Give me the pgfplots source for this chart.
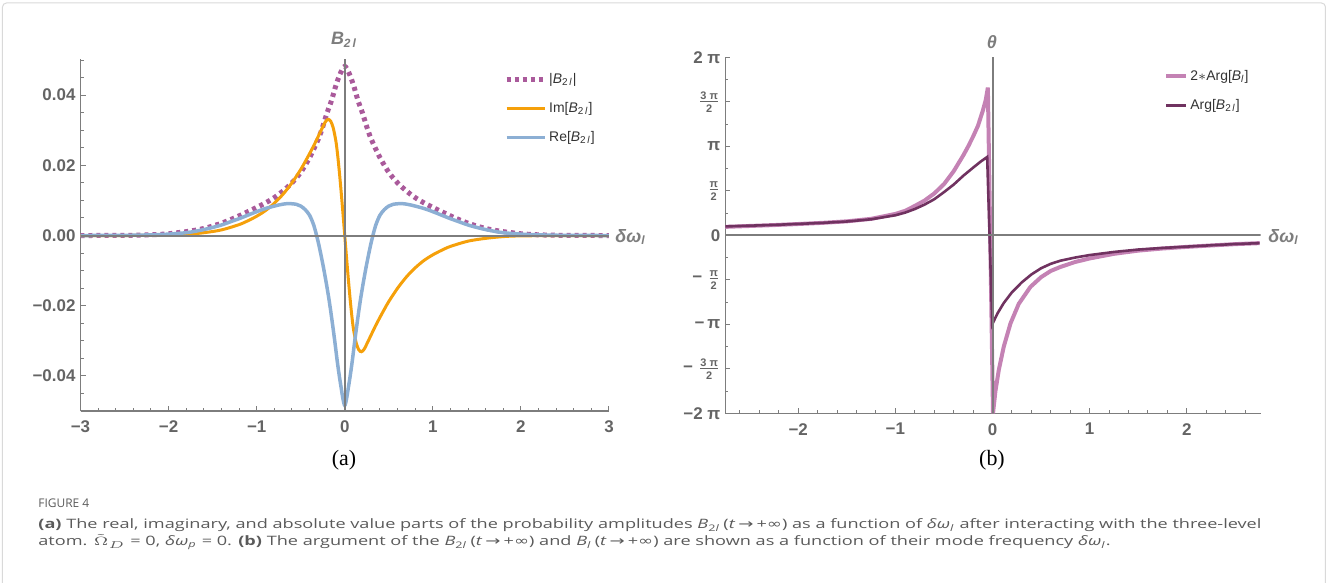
\documentclass[border=0pt]{standalone}
\usepackage{pgfplots}
\pgfplotsset{compat=1.18}
\usepackage{graphicx}
\usepackage{fontspec}
\setmainfont{Liberation Sans}
\newfontfamily\seriffont{Liberation Serif}
\newfontfamily\capfont{Open Sans}
\newfontfamily\symfont{DejaVu Sans}

\definecolor{absc}{RGB}{170,90,155}
\definecolor{imc}{RGB}{245,160,10}
\definecolor{rec}{RGB}{140,175,212}
\definecolor{pinkc}{RGB}{196,130,180}
\definecolor{darkc}{RGB}{112,50,96}
\definecolor{axc}{RGB}{125,125,125}
\definecolor{tickc}{RGB}{100,100,100}
\definecolor{capc}{RGB}{90,90,90}

\newcommand{\pifrac}[2]{$\frac{\mbox{\fontsize{5.5}{6}\selectfont #1}}{\mbox{\fontsize{5.5}{6}\selectfont #2}}$}
\newcommand{\tinf}{(\textit{t}\,{\symfont →}\,+{\symfont ∞})}

\pgfplotsset{mma/.style={
  scale only axis,
  axis x line=bottom, axis y line=left,
  axis line style={-, draw=axc, line width=0.6bp},
  tick align=inside,
  major tick length=2.5bp, minor tick length=1.5bp,
  every tick/.style={axc, line width=0.5bp},
  ticklabel style={font=\fontsize{8.5}{9}\selectfont\bfseries, text=tickc},
  xticklabel style={yshift=-1.5bp},
  yticklabel style={xshift=1bp},
  scaled ticks=false,
  legend cell align=left,
}}

\begin{document}
\begin{tikzpicture}
\useasboundingbox (0,0) rectangle (664bp,-291.5bp);
\begin{scope}[x=0.5bp,y=-0.5bp]
\draw[gray!30, line width=0.5bp, rounded corners=2bp] (2.5,3) rectangle (1325.5,620);
\end{scope}

% (a) amplitudes
\begin{axis}[mma,
  at={(40.25bp,-205.5bp)}, anchor=south west,
  width=264.25bp, height=176bp,
  xmin=-3, xmax=3, ymin=-0.05, ymax=0.0503,
  xtick={-3,-2,-1,0,1,2,3}, xticklabels={−3,−2,−1,0,1,2,3},
  minor xtick={-3,-2.8,...,3},
  ytick={-0.04,-0.02,0,0.02,0.04}, yticklabels={−0.04,−0.02,0.00,0.02,0.04},
  minor ytick={-0.05,-0.045,...,0.05},
  legend style={draw=none, fill=none, at={(0.801,0.9716)}, anchor=north west,
    font=\fontsize{7}{8}\selectfont, text=black!80, row sep=4.5bp, inner sep=0pt,
    nodes={inner sep=1bp, text height=6bp, text depth=2bp}},
  legend image code/.code={\draw[#1] (0bp,0bp) -- (19bp,0bp);},
]
\addplot[absc, line width=2.5bp, dash pattern=on 2bp off 2bp, smooth] coordinates {
(-3,0) (-2.5,0.00005) (-2.2,0.0002) (-2.0,0.0005) (-1.9,0.0008) (-1.8,0.0011)
(-1.7,0.0015) (-1.6,0.0020) (-1.5,0.0027) (-1.4,0.0035) (-1.3,0.0045) (-1.2,0.0056)
(-1.1,0.0068) (-1.0,0.0080) (-0.9,0.0093) (-0.8,0.0108) (-0.7,0.0127) (-0.6,0.0150)
(-0.5,0.0180) (-0.4,0.0222) (-0.3,0.0275) (-0.25,0.0310) (-0.2,0.0350) (-0.15,0.0385)
(-0.1,0.0428) (-0.05,0.0462) (0,0.0482)
(0.05,0.0462) (0.1,0.0428) (0.15,0.0385) (0.2,0.0350) (0.25,0.0310) (0.3,0.0275)
(0.4,0.0222) (0.5,0.0180) (0.6,0.0150) (0.7,0.0127) (0.8,0.0108) (0.9,0.0093)
(1.0,0.0080) (1.1,0.0068) (1.2,0.0056) (1.3,0.0045) (1.4,0.0035) (1.5,0.0027)
(1.6,0.0020) (1.7,0.0015) (1.8,0.0011) (1.9,0.0008) (2.0,0.0005) (2.2,0.0002)
(2.5,0.00005) (3,0)};
\addlegendentry{|\textit{B}\textsubscript{2\,\textit{l}}|}
\addplot[imc, line width=1.5bp, smooth] coordinates {
(-3,0) (-2.5,0) (-2.0,0.0001) (-1.8,0.0003) (-1.6,0.0008) (-1.4,0.0016) (-1.2,0.0031)
(-1.1,0.0042) (-1.0,0.0055) (-0.9,0.0071) (-0.8,0.0092) (-0.7,0.0118) (-0.6,0.0150)
(-0.5,0.0188) (-0.45,0.0210) (-0.4,0.0233) (-0.35,0.0257) (-0.3,0.0283) (-0.26,0.0304)
(-0.22,0.0324) (-0.19,0.0331) (-0.16,0.0326) (-0.13,0.0306) (-0.1,0.0268) (-0.08,0.0228)
(-0.06,0.0178) (-0.04,0.0122) (-0.02,0.0062) (0,0)
(0.02,-0.0062) (0.04,-0.0122) (0.06,-0.0178) (0.08,-0.0228) (0.1,-0.0268) (0.13,-0.0306)
(0.16,-0.0326) (0.19,-0.0331) (0.22,-0.0324) (0.26,-0.0304) (0.3,-0.0283) (0.35,-0.0257)
(0.4,-0.0233) (0.45,-0.0210) (0.5,-0.0188) (0.6,-0.0150) (0.7,-0.0118) (0.8,-0.0092)
(0.9,-0.0071) (1.0,-0.0055) (1.1,-0.0042) (1.2,-0.0031) (1.4,-0.0016) (1.6,-0.0008)
(1.8,-0.0003) (2.0,-0.0001) (2.5,0) (3,0)};
\addlegendentry{Im[\textit{B}\textsubscript{2\,\textit{l}}]}
\addplot[rec, line width=1.75bp, smooth] coordinates {
(-3,0) (-2.5,0.00005) (-2.2,0.0002) (-2.0,0.0004) (-1.8,0.0008) (-1.7,0.0012)
(-1.6,0.0017) (-1.5,0.0023) (-1.4,0.0030) (-1.3,0.0039) (-1.2,0.0048) (-1.1,0.0058)
(-1.0,0.0068) (-0.9,0.0077) (-0.75,0.0087) (-0.65,0.0091) (-0.55,0.0089) (-0.5,0.0084)
(-0.45,0.0074) (-0.4,0.0058) (-0.35,0.0028) (-0.3,-0.0020) (-0.25,-0.0080) (-0.21,-0.0135)
(-0.18,-0.0180) (-0.15,-0.0232) (-0.12,-0.0288) (-0.1,-0.0328) (-0.08,-0.0368)
(-0.06,-0.0403) (-0.04,-0.0435) (-0.02,-0.0466) (0,-0.0484)
(0.02,-0.0466) (0.04,-0.0435) (0.06,-0.0403) (0.08,-0.0368) (0.1,-0.0328) (0.12,-0.0288)
(0.15,-0.0232) (0.18,-0.0180) (0.21,-0.0135) (0.25,-0.0080) (0.3,-0.0020) (0.35,0.0028)
(0.4,0.0058) (0.45,0.0074) (0.5,0.0084) (0.55,0.0089) (0.65,0.0091) (0.75,0.0087)
(0.9,0.0077) (1.0,0.0068) (1.1,0.0058) (1.2,0.0048) (1.3,0.0039) (1.4,0.0030)
(1.5,0.0023) (1.6,0.0017) (1.7,0.0012) (1.8,0.0008) (2.0,0.0004) (2.2,0.0002)
(2.5,0.00005) (3,0)};
\addlegendentry{Re[\textit{B}\textsubscript{2\,\textit{l}}]}
\draw[axc, line width=1bp] (axis cs:0,-0.05) -- (axis cs:0,0.0503);
\draw[axc, line width=1bp] (axis cs:-3,0) -- (axis cs:3,0);
\end{axis}

% (b) arguments, in units of pi
\begin{axis}[mma,
  at={(362.7bp,-206.65bp)}, anchor=south west,
  width=267.6bp, height=178bp,
  xmin=-2.75, xmax=2.76, ymin=-2, ymax=2,
  xtick={-2,-1,0,1,2}, xticklabels={−2,−1,0,1,2},
  minor xtick={-2.6,-2.4,...,2.7},
  ytick={-2,-1.5,-1,-0.5,0,0.5,1,1.5,2},
  yticklabels={−2 π, −\hspace{2.5bp}\pifrac{3 π}{2}, −\,π, −\hspace{2.5bp}\pifrac{π}{2}, 0, \pifrac{π}{2}, π, \pifrac{3 π}{2}, 2 π},
  minor ytick={-1.75,-1.25,...,1.8},
  legend style={draw=none, fill=none, at={(0.8195,0.9756)}, anchor=north west,
    font=\fontsize{7}{8}\selectfont, text=black!80, row sep=4.5bp, inner sep=0pt,
    nodes={inner sep=1bp, text height=6bp, text depth=2bp}},
  legend image code/.code={\draw[#1] (0bp,0bp) -- (10bp,0bp);},
]
\addplot[pinkc, line width=2bp] coordinates {
(-2.75,0.095) (-2.5,0.105) (-2.25,0.115) (-2.0,0.127) (-1.75,0.140) (-1.5,0.157)
(-1.25,0.185) (-1.0,0.24) (-0.9,0.275) (-0.8,0.33) (-0.7,0.39) (-0.6,0.47) (-0.5,0.575)
(-0.4,0.72) (-0.3,0.90) (-0.25,1.0) (-0.2,1.11) (-0.15,1.23) (-0.1,1.40) (-0.07,1.52)
(-0.048,1.66) (0.005,-2.0)
(0.03,-1.75) (0.065,-1.51) (0.116,-1.25) (0.185,-0.99) (0.27,-0.77) (0.39,-0.58)
(0.5,-0.47) (0.6,-0.40) (0.7,-0.355) (0.85,-0.30) (1.0,-0.26) (1.25,-0.208)
(1.5,-0.172) (1.75,-0.148) (2.0,-0.13) (2.25,-0.114) (2.5,-0.099) (2.75,-0.088)};
\addlegendentry{2$\ast$Arg[\textit{B}\textsubscript{\textit{l}}]}
\addplot[darkc, line width=1.3bp] coordinates {
(-2.75,0.100) (-2.5,0.108) (-2.25,0.117) (-2.0,0.128) (-1.75,0.140) (-1.5,0.155)
(-1.25,0.180) (-1.0,0.225) (-0.9,0.255) (-0.8,0.295) (-0.7,0.345) (-0.6,0.405)
(-0.5,0.485) (-0.4,0.57) (-0.3,0.67) (-0.2,0.76) (-0.12,0.83) (-0.055,0.88)
(-0.003,-1.0)
(0.05,-0.88) (0.116,-0.76) (0.2,-0.64) (0.3,-0.53) (0.4,-0.44) (0.5,-0.37) (0.6,-0.32)
(0.7,-0.285) (0.85,-0.25) (1.0,-0.222) (1.25,-0.187) (1.5,-0.16) (1.75,-0.142)
(2.0,-0.127) (2.25,-0.112) (2.5,-0.098) (2.75,-0.088)};
\addlegendentry{Arg[\textit{B}\textsubscript{2\,\textit{l}}]}
\draw[axc, line width=1bp] (axis cs:0,-2) -- (axis cs:0,2);
\draw[axc, line width=1bp] (axis cs:-2.75,0) -- (axis cs:2.76,0);
\end{axis}

\begin{scope}[x=0.5bp,y=-0.5bp]
\node[text=axc, font=\fontsize{9}{10}\selectfont\bfseries\itshape] at (344,40)
  {B\textsubscript{2\,l}};
\node[text=axc, font=\fontsize{9}{10}\selectfont\bfseries\itshape] at (992,42) {θ};
\node[text=axc, font=\fontsize{9}{10}\selectfont\bfseries\itshape, anchor=west, inner sep=0pt]
  at (615,237) {δω\textsubscript{l}};
\node[text=axc, font=\fontsize{9}{10}\selectfont\bfseries\itshape, anchor=west, inner sep=0pt]
  at (1268,237) {δω\textsubscript{l}};
\node[font=\fontsize{11}{12}\selectfont\seriffont] at (344,460) {(a)};
\node[font=\fontsize{11}{12}\selectfont\seriffont] at (992,460) {(b)};
\node[anchor=base west, inner sep=0pt, text=capc, font=\fontsize{6}{7}\selectfont\capfont]
  at (38,508) {FIGURE 4};
\node[anchor=north west, inner sep=0pt, text=capc] at (38,516) {\resizebox{611.5bp}{\height}{%
  \capfont\fontsize{6.5}{8.7}\selectfont
  \begin{tabular}{@{}l@{}}
  \textbf{(a)} The real, imaginary, and absolute value parts of the probability amplitudes \textit{B}\textsubscript{2\textit{l}}\,\tinf{} as a function of \textit{δω\textsubscript{l}} after interacting with the three-level\\
  atom. $\tilde{\Omega}_D$ = 0, \textit{δω\textsubscript{p}} = 0. \textbf{(b)} The argument of the \textit{B}\textsubscript{2\textit{l}}\,\tinf{} and \textit{B\textsubscript{l}}\,\tinf{} are shown as a function of their mode frequency \textit{δω\textsubscript{l}}.
  \end{tabular}}};
\end{scope}
\end{tikzpicture}
\end{document}
